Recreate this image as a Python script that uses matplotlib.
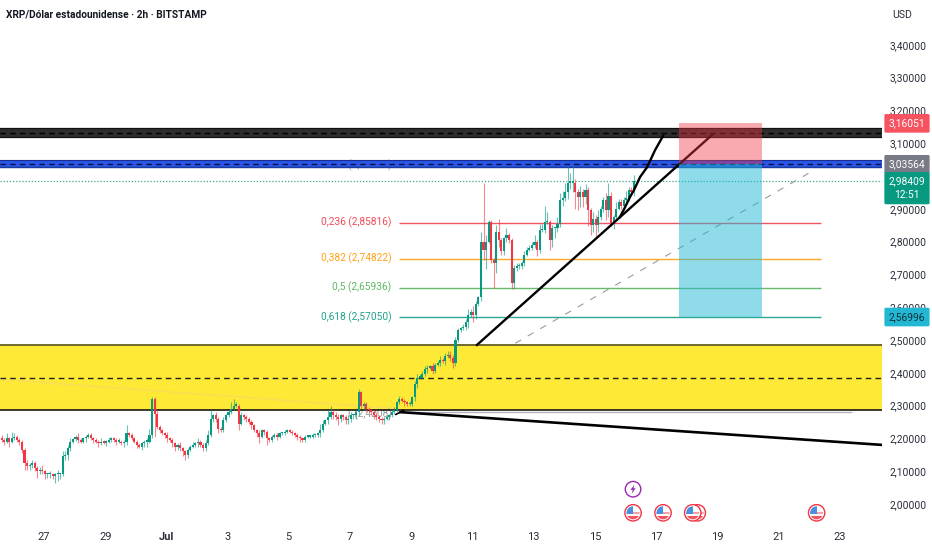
import matplotlib
matplotlib.use('Agg')
import matplotlib.pyplot as plt
from matplotlib.offsetbox import AnnotationBbox, DrawingArea
from matplotlib.patches import Circle, Rectangle, Polygon

plt.rcParams['font.family'] = ['Roboto', 'DejaVu Sans']

GREEN = '#089981'
RED = '#f23645'
TEXT = '#2a2e39'

# 2h closes, one row per day
closes = [
    2.195, 2.19, 2.20, 2.19, 2.20, 2.205, 2.195, 2.19, 2.165, 2.125, 2.115, 2.12,
    2.125, 2.11, 2.10, 2.103, 2.10, 2.09, 2.09, 2.09, 2.085, 2.09, 2.09, 2.09,
    2.145, 2.15, 2.17, 2.19, 2.197, 2.205, 2.195, 2.19, 2.20, 2.205, 2.21, 2.20,
    2.195, 2.19, 2.185, 2.19, 2.187, 2.19, 2.195, 2.20, 2.195, 2.19, 2.19, 2.185,
    2.19, 2.215, 2.21, 2.20, 2.19, 2.18, 2.175, 2.185, 2.19, 2.19, 2.21, 2.32,
    2.275, 2.235, 2.225, 2.215, 2.21, 2.20, 2.195, 2.185, 2.175, 2.18, 2.17, 2.16,
    2.15, 2.165, 2.175, 2.18, 2.185, 2.19, 2.18, 2.17, 2.185, 2.21, 2.26, 2.27,
    2.26, 2.23, 2.225, 2.255, 2.27, 2.28, 2.29, 2.30, 2.30, 2.245, 2.27, 2.265,
    2.26, 2.25, 2.24, 2.225, 2.215, 2.205, 2.225, 2.22, 2.20, 2.195, 2.205, 2.21,
    2.205, 2.215, 2.215, 2.22, 2.225, 2.22, 2.215, 2.21, 2.205, 2.20, 2.195, 2.205,
    2.205, 2.205, 2.21, 2.21, 2.215, 2.225, 2.245, 2.255, 2.265, 2.28, 2.27, 2.265,
    2.26, 2.27, 2.265, 2.255, 2.26, 2.27, 2.27, 2.28, 2.34, 2.30, 2.305, 2.29,
    2.285, 2.28, 2.27, 2.265, 2.26, 2.255, 2.26, 2.265, 2.27, 2.28, 2.285, 2.31,
    2.32, 2.315, 2.31, 2.305, 2.305, 2.325, 2.365, 2.385, 2.385, 2.395, 2.41, 2.415,
    2.42, 2.405, 2.425, 2.43, 2.44, 2.435, 2.45, 2.455, 2.445, 2.43, 2.50, 2.53,
    2.535, 2.54, 2.555, 2.575, 2.585, 2.575, 2.61, 2.63, 2.80, 2.775, 2.80, 2.86,
    2.745, 2.735, 2.83, 2.805, 2.77, 2.81, 2.82, 2.805, 2.675, 2.72, 2.725, 2.725,
    2.735, 2.76, 2.775, 2.78, 2.79, 2.80, 2.775, 2.835, 2.835, 2.86, 2.86, 2.805,
    2.84, 2.84, 2.855, 2.927, 2.933, 2.95, 2.98, 2.98, 2.98, 2.95, 2.935, 2.95,
    2.935, 2.957, 2.896, 2.85, 2.87, 2.85, 2.875, 2.90, 2.927, 2.896, 2.94, 2.857,
    2.875, 2.90, 2.92, 2.91, 2.927, 2.933, 2.957, 2.95, 2.984,
]
first_open = 2.20

# wick length above / below the body
wick_up = [
    .01, .005, .015, .005, .02, .01, .005, .005, .005, .005, .01, .005,
    .01, .005, .005, .01, .015, .005, .005, .01, .005, .005, .015, .005,
    .015, .01, .01, .01, .005, .005, .01, .005, .005, .005, .005, .005,
    .005, .005, .005, .01, .005, .005, .01, .005, .005, .005, .01, .005,
    .005, .025, .005, .005, .005, .005, .005, .005, .005, .01, .02, .005,
    .005, .015, .005, .005, .005, .01, .005, .005, .005, .005, .01, .005,
    .005, .005, .005, .01, .005, .01, .005, .005, .01, .015, .025, .005,
    .01, .005, .005, .01, .005, .005, .02, .02, .01, .005, .01, .005,
    .005, .005, .005, .005, .005, .01, .005, .005, .005, .005, .005, .005,
    .005, .005, .005, .005, .005, .005, .005, .005, .005, .005, .005, .005,
    .005, .005, .005, .005, .005, .02, .01, .005, .02, .02, .01, .01,
    .01, .005, .005, .005, .01, .01, .005, .005, .01, .005, .005, .005,
    .005, .005, .005, .01, .005, .005, .005, .005, .005, .01, .01, .005,
    .01, .005, .005, .005, .01, .005, .01, .01, .01, .01, .01, .01,
    .005, .01, .005, .005, .01, .005, .01, .01, .01, .01, .01, .005,
    .005, .01, .01, .02, .01, .02, .01, .005, .03, .18, .02, .005,
    .005, .005, .02, .04, .005, .005, .02, .005, .005, .01, .01, .01,
    .005, .01, .01, .01, .01, .02, .005, .02, .02, .05, .03, .005,
    .01, .005, .02, .02, .02, .03, .05, .03, .05, .01, .01, .02,
    .01, .02, .01, .005, .02, .01, .02, .01, .01, .02, .04, .01,
    .005, .02, .01, .01, .01, .02, .01, .01, .02,
]
wick_down = [
    .005, .01, .005, .015, .005, .005, .005, .01, .01, .02, .01, .01,
    .01, .01, .02, .01, .01, .015, .01, .01, .01, .02, .02, .015,
    .005, .01, .015, .01, .005, .005, .01, .005, .005, .01, .005, .005,
    .01, .005, .01, .005, .005, .01, .005, .005, .005, .01, .005, .005,
    .01, .01, .005, .005, .005, .01, .005, .01, .01, .015, .005, .01,
    .07, .005, .01, .005, .01, .01, .005, .01, .015, .01, .01, .015,
    .015, .01, .005, .005, .005, .01, .005, .01, .01, .005, .005, .01,
    .01, .015, .005, .005, .005, .005, .005, .005, .005, .02, .005, .01,
    .01, .005, .01, .005, .01, .02, .005, .01, .02, .005, .005, .005,
    .01, .005, .005, .005, .005, .005, .005, .005, .01, .01, .005, .005,
    .005, .005, .005, .005, .005, .01, .005, .005, .01, .005, .01, .01,
    .02, .01, .01, .01, .01, .01, .01, .01, .01, .01, .01, .01,
    .005, .01, .01, .01, .01, .01, .01, .005, .01, .005, .005, .005,
    .005, .005, .01, .005, .005, .005, .01, .01, .005, .005, .005, .01,
    .005, .01, .005, .005, .01, .005, .01, .005, .01, .015, .01, .005,
    .005, .005, .01, .02, .005, .02, .01, .005, .01, .03, .06, .005,
    .01, .075, .03, .02, .01, .01, .01, .01, .02, .02, .01, .01,
    .01, .01, .005, .005, .005, .01, .02, .01, .005, .01, .005, .03,
    .02, .03, .01, .01, .02, .01, .02, .02, .03, .05, .04, .03,
    .03, .02, .05, .03, .02, .04, .02, .01, .01, .03, .02, .01,
    .02, .01, .005, .01, .005, .005, .01, .01, .01,
]

# days since Jun 27
tick_days = [0, 2, 4, 6, 8, 10, 12, 14, 16, 18, 20, 22, 24, 26]
tick_labels = ['27', '29', 'Jul', '3', '5', '7', '9', '11', '13', '15', '17', '19', '21', '23']
last_candle_day = 19.28

price_ticks = [2.0, 2.1, 2.2, 2.3, 2.4, 2.5, 2.6, 2.7, 2.8, 2.9, 3.0, 3.1, 3.2, 3.3, 3.4]

fib_ratios = ['0,236', '0,382', '0,5', '0,618']
fib_prices = [2.85816, 2.74822, 2.65936, 2.57050]
fib_colors = ['#f23645', '#ff9800', '#4caf50', '#089981']
fib_start, fib_end = 11.6, 25.4

zone_low, zone_mid, zone_high = 2.288, 2.385, 2.485
black_band = (3.119, 3.146)
blue_band = (3.027, 3.049)

entry_price, stop_price, target_price = 3.03564, 3.16051, 2.56996
box_start, box_end = 20.75, 23.45
last_price = 2.98409

trend_long_x = [14.15, 21.83]
trend_long_y = [2.485, 3.125]
trend_curve_x = [18.82, 18.99, 19.15, 19.28, 19.48, 19.71, 19.97, 20.23]
trend_curve_y = [2.875, 2.905, 2.936, 2.957, 2.997, 3.027, 3.079, 3.122]
trend_down_x = [11.65, 27.4]
trend_down_y = [2.28, 2.18]
dashed_x = [15.4, 25.2]
dashed_y = [2.49, 3.02]

flag_days = [25.25, 21.35, 21.2, 20.23, 19.25]
lightning_day = 19.25

fig = plt.figure(figsize=(9.32, 5.5), dpi=100, facecolor='white')
ax = fig.add_axes([0, 28 / 550, 882 / 932, 522 / 550])
ax.set_xlim(-44 / 30.6, 838 / 30.6)
ax.set_ylim(1.945, 3.5366)
for s in ax.spines.values():
    s.set_visible(False)

# candles
opens = [first_open] + closes[:-1]
days = [last_candle_day - (len(closes) - 1 - i) / 12 for i in range(len(closes))]
for d, o, c, u, w in zip(days, opens, closes, wick_up, wick_down):
    col = GREEN if c >= o else RED
    top = max(o, c)
    bot = min(o, c)
    ax.vlines(d, bot - w, top + u, color=col, lw=0.8, alpha=0.6, zorder=4)
    ax.bar(d, max(top - bot, 0.004), bottom=bot, width=0.068, color=col, lw=0, zorder=4.1)

# yellow zone
ax.axhspan(zone_low, zone_high, color='#fde936', lw=0, zorder=1)
ax.axhline(zone_high, color='#6f6a2c', lw=1.4, zorder=2)
ax.axhline(zone_low, color='#1a1a14', lw=1.2, zorder=2)
ax.axhline(zone_mid, color='#222222', lw=1, ls=(0, (4, 3)), zorder=2)
ax.plot([-1.44, 11.6], [2.38, 2.29], color='#fbdf52', lw=1.2, zorder=1.5)
ax.hlines(2.28, 11.6, 26.4, color='#b5b5b5', lw=1, zorder=1.5)
ax.text(fib_start - 0.25, 2.275, '1 (2,4208)', color='#9a9a9a', fontsize=7.3, ha='right', va='center', zorder=1.5)
ax.plot([11.5, 11.75], [2.273, 2.285], color='black', lw=1.2, zorder=3)

# resistance bands
ax.axhspan(*black_band, color='#2e2e2e', lw=0, zorder=2)
ax.axhline(black_band[0], color='#111111', lw=0.9, zorder=2)
ax.axhline(black_band[1], color='#111111', lw=0.9, zorder=2)
ax.axhline(sum(black_band) / 2, color='black', lw=1, ls=(0, (4, 3)), zorder=2.1)
ax.axhspan(*blue_band, color='#2a55e6', lw=0, zorder=2)
ax.axhline(blue_band[0], color='#1c3a9e', lw=1, zorder=2)
ax.axhline(blue_band[1], color='#17308c', lw=0.8, zorder=2)
ax.axhline(sum(blue_band) / 2, color='#0b1440', lw=1, ls=(0, (4, 3)), zorder=2.1)
ax.text(fib_start - 0.25, 3.033, '0 (3,03564)', color='#9a9a9a', fontsize=7.3, ha='right', va='center', zorder=1.5)

# fib levels
for ratio, price, col in zip(fib_ratios, fib_prices, fib_colors):
    ax.hlines(price, fib_start, fib_end, color=col, lw=1, alpha=0.85, zorder=2)
    label = ratio + ' (' + ('%.5f' % price).replace('.', ',') + ')'
    ax.text(fib_start - 0.25, price, label, color=col, fontsize=7.3, ha='right', va='center', alpha=0.9)

# last price line
ax.axhline(last_price, color='#3aa795', lw=0.9, ls=(0, (1, 1.5)), zorder=2)

# drawn lines
ax.plot(dashed_x, dashed_y, color='#9a9a9a', lw=0.8, ls=(0, (6, 7)), zorder=3)
ax.plot(trend_long_x, trend_long_y, color='black', lw=1.7, zorder=5)
ax.plot(trend_curve_x, trend_curve_y, color='black', lw=1.7, zorder=5)
ax.plot(trend_down_x, trend_down_y, color='black', lw=1.9, zorder=5)

# short position box
ax.fill_between([box_start, box_end], entry_price, stop_price, color=RED, alpha=0.42, lw=0, zorder=6)
ax.fill_between([box_start, box_end], target_price, entry_price, color='#22b8d4', alpha=0.5, lw=0, zorder=6)

# axes text
ax.set_xticks(tick_days)
ax.set_xticklabels(tick_labels)
ax.get_xticklabels()[2].set_fontweight('bold')
ax.yaxis.tick_right()
ax.set_yticks(price_ticks)
ax.set_yticklabels([('%.5f' % p).replace('.', ',') for p in price_ticks])
ax.tick_params(axis='both', length=0, labelsize=7.4, labelcolor=TEXT)
ax.tick_params(axis='x', labelsize=8, pad=7)
ax.tick_params(axis='y', pad=5.5)

fig.text(6 / 932, 1 - 15 / 550, 'XRP/Dólar estadounidense · 2h · BITSTAMP', fontsize=7.3,
         fontweight='bold', color='#131722', va='center')
fig.text(902 / 932, 1 - 15 / 550, 'USD', fontsize=7.6, color=TEXT, ha='center', va='center')


# price tags on the scale
def tag(price, label, bg, fg='white', dy=0):
    ax.annotate(label, xy=(1, price), xycoords=('axes fraction', 'data'),
                xytext=(18, dy), textcoords='offset points', ha='center', va='center',
                fontsize=7.4, color=fg, annotation_clip=False, zorder=20, linespacing=1.45,
                bbox=dict(boxstyle='round,pad=0.42,rounding_size=0.15', fc=bg, ec='none'))


tag(stop_price, '3,16051', '#f7525f')
tag(entry_price, '3,03564', '#787b86')
tag(last_price, '2,98409\n12:51', GREEN, dy=-5)
tag(target_price, '2,56996', '#22b8d4', fg='#0c2f3a')


# event icons under the candles
def flag_icon():
    da = DrawingArea(13, 13, 0, 0)
    ring = Circle((6.5, 6.5), 5.9, fc='white', ec='#f23645', lw=1)
    inner = Circle((6.5, 6.5), 4.7, fc='white', ec='none')
    da.add_artist(ring)
    da.add_artist(inner)
    parts = [Rectangle((1.5, 5.6), 10, 1.6, fc='#f7a0a8', ec='none'),
             Rectangle((1.5, 1.5), 10, 2.8, fc='#f2545f', ec='none'),
             Rectangle((1.5, 5.8), 5.2, 6, fc='#4a90e2', ec='none')]
    for p in parts:
        da.add_artist(p)
        p.set_clip_path(inner)
    return da


def bolt_icon():
    da = DrawingArea(13, 13, 0, 0)
    da.add_artist(Circle((6.5, 6.5), 5.6, fc='white', ec='#9c27b0', lw=1))
    da.add_artist(Polygon([(7.6, 10), (4.6, 6), (6.3, 6), (5.4, 3), (8.4, 7.2), (6.7, 7.2)],
                          closed=True, fc='#9c27b0', ec='none'))
    return da


for d in flag_days:
    ax.add_artist(AnnotationBbox(flag_icon(), (d, 1.973), frameon=False, pad=0,
                                 box_alignment=(0.5, 0.5), zorder=8))
ax.add_artist(AnnotationBbox(bolt_icon(), (lightning_day, 2.045), frameon=False, pad=0,
                             box_alignment=(0.5, 0.5), zorder=8))

fig.savefig('out.png', dpi=100)
